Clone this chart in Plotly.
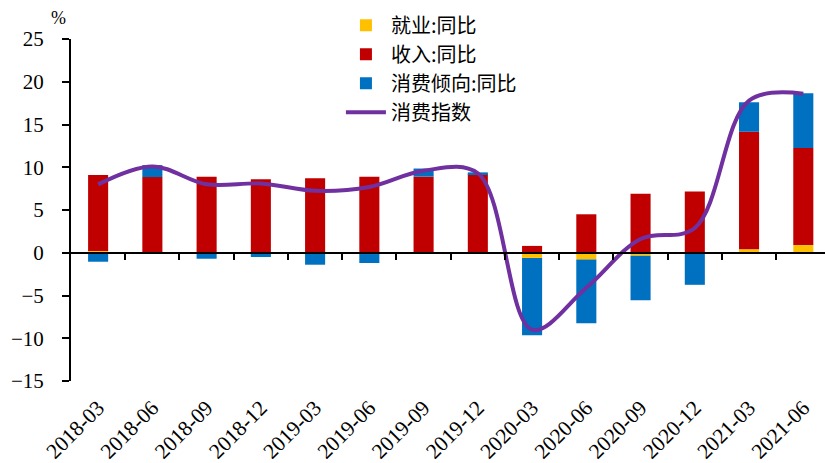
import plotly.graph_objects as go

categories = ['2018-03', '2018-06', '2018-09', '2018-12', '2019-03', '2019-06', '2019-09',
              '2019-12', '2020-03', '2020-06', '2020-09', '2020-12', '2021-03', '2021-06']
employment = [0.2, 0.05, 0.0, 0.0, 0.0, -0.15, -0.1, -0.1, -0.6, -0.8, -0.35, 0.0, 0.4, 0.9]
income = [8.9, 8.8, 8.9, 8.6, 8.7, 8.9, 8.9, 9.2, 0.8, 4.5, 6.9, 7.15, 13.75, 11.35]
propensity = [-1.05, 1.4, -0.7, -0.5, -1.4, -1.05, 0.95, 0.2, -9.05, -7.45, -5.2, -3.75, 3.45, 6.4]
consumption_index = [8.0, 10.1, 8.0, 8.1, 7.25, 7.7, 9.6, 9.3, -9.0, -4.1, 1.6, 2.9, 17.8, 18.6]
y_ticks = [-15, -10, -5, 0, 5, 10, 15, 20, 25]

names = ['就业:同比', '收入:同比', '消费倾向:同比', '消费指数']
colors = ['#FFC000', '#C00000', '#0070C0', '#7030A0']

serif = 'Liberation Serif, Times New Roman, serif'
cjk = 'Noto Sans CJK SC'

fig = go.Figure()
for vals, name, col in zip([employment, income, propensity], names[:3], colors[:3]):
    fig.add_trace(go.Bar(x=categories, y=vals, name=name, marker_color=col,
                         marker_line_width=0, width=0.37))
fig.add_trace(go.Scatter(x=categories, y=consumption_index, name=names[3], mode='lines',
                         line=dict(color=colors[3], width=4, shape='spline', smoothing=1.0)))

n = len(categories)
fig.update_layout(
    width=825, height=463,
    margin=dict(l=71, r=0, t=39, b=81.5, autoexpand=False),
    paper_bgcolor='white', plot_bgcolor='white',
    barmode='relative',
    showlegend=True,
    legend=dict(x=0.358, y=1.097, xanchor='left', yanchor='top',
                font=dict(family=cjk, size=20, color='black'),
                bgcolor='rgba(0,0,0,0)', itemwidth=40),
    xaxis=dict(type='category', range=[-0.5, n - 0.6], showline=False, showgrid=False,
               ticks='', tickangle=-45, ticklabelstandoff=9, automargin=False,
               tickfont=dict(family=serif, size=21.5, color='black'), zeroline=False),
    xaxis2=dict(overlaying='x', anchor='free', position=15 / 40, range=[-0.5, n - 0.6],
                showline=True, linecolor='black', linewidth=2, showgrid=False, zeroline=False,
                ticks='outside', ticklen=6, tickwidth=2, tickcolor='black', automargin=False,
                tickvals=[i + 0.5 for i in range(n - 1)], showticklabels=False),
    yaxis=dict(range=[-15, 25], tickvals=y_ticks, showgrid=False, zeroline=False,
               showline=True, linecolor='black', linewidth=2, automargin=False,
               ticks='outside', ticklen=7, tickwidth=2, tickcolor='black',
               ticklabelstandoff=14,
               tickfont=dict(family=serif, size=21, color='black')),
    annotations=[dict(text='%', xref='paper', yref='paper', x=-0.017, y=1.06,
                      xanchor='center', yanchor='middle', showarrow=False,
                      font=dict(family=serif, size=18, color='black'))],
)
# invisible helper trace so the zero-line axis (xaxis2) is drawn
fig.add_trace(go.Scatter(x=[0], y=[0], xaxis='x2', mode='markers', marker_opacity=0,
                         showlegend=False, hoverinfo='skip'))

fig.write_html('out.html')
